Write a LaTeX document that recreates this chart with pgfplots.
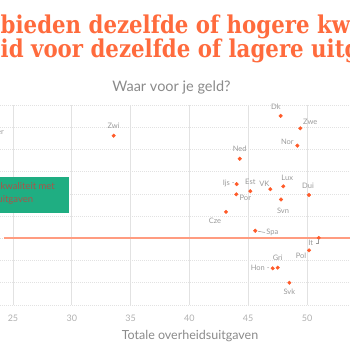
\documentclass[border=0pt]{standalone}
\usepackage{fontspec}
\setmainfont{Lato}
\newfontfamily\titlefont[FakeStretch=0.87]{DejaVu Serif}
\usepackage{pgfplots}
\usepackage{pgfplotstable}
\pgfplotsset{compat=1.18}
\definecolor{dotc}{HTML}{FF5A28}
\definecolor{titc}{HTML}{FF6B3D}
\definecolor{linec}{HTML}{FF9C80}
\definecolor{boxc}{HTML}{1FAE82}
\definecolor{boxtxt}{HTML}{A8554A}
\definecolor{gridc}{HTML}{E2E2E2}
\definecolor{labc}{HTML}{9A9A9A}
\definecolor{tickc}{HTML}{B0B0B0}
\definecolor{subc}{HTML}{8A8A8A}

\pgfplotstableread[col sep=comma]{
x,y,label,dx,dy
33.56,7.62,Zwi,0,9.7
47.76,8.51,Dk,-4.7,9
49.43,7.95,Zwe,10,6.3
49.18,7.17,Nor,-10,3.7
44.28,6.58,Ned,0,9.7
44.02,5.44,Ijs -,-8,1
45.18,5.12,Est,0,9
46.88,5.21,VK,-6,5
47.98,5.34,Lux,4,8
50.17,4.95,Dui,-1,9
43.99,4.98,Por,9,-3.7
47.79,4.75,Svn,2,-11.5
43.11,4.19,Cze,-11,-9
45.60,3.34,Spa,17,-2
51.00,3.02,It,-8,-5
50.17,2.46,Pol,-8,-5.7
47.51,1.68,Gri,0,9.7
47.08,1.65,Hon -,-12.5,0
48.50,1.00,Svk,0,-9.3
}\landen

\begin{document}
\begin{tikzpicture}
\path[use as bounding box] (0pt,0pt) rectangle (350pt,350pt);
\begin{scope}
\clip (0pt,0pt) rectangle (350pt,350pt);
% title
\node[anchor=base west, inner sep=0pt, text=titc, font=\titlefont\bfseries\fontsize{24.5}{26}\selectfont] at (0.5pt,316.7pt) {bieden dezelfde of hogere kwaliteit};
\node[anchor=base west, inner sep=0pt, text=titc, font=\titlefont\bfseries\fontsize{24.5}{26}\selectfont] at (0.5pt,292.7pt) {id voor dezelfde of lagere uitgaven};
\node[anchor=base, inner sep=0pt, text=subc, font=\fontsize{14.5}{16}\selectfont] at (171.5pt,258pt) {Waar voor je geld?};
\begin{axis}[
  at={(0pt,45pt)}, anchor=south west,
  scale only axis, width=350pt, height=200pt,
  xmin=23.895, xmax=53.656, ymin=0, ymax=9,
  axis line style={draw=none},
  xtick={25,30,35,40,45,50}, ytick={1,2,3,4,5,6,7,8,9},
  yticklabels={},
  extra y ticks={0}, extra y tick labels={},
  extra y tick style={grid style={draw=gridc, line width=0.9pt, solid}},
  major tick length=0pt,
  xmajorgrids, ymajorgrids,
  x grid style={draw=gridc, line width=0.6pt},
  y grid style={draw=gridc, line width=0.6pt, dash pattern=on 1pt off 1pt},
  /pgf/number format/assume math mode=true,
  xticklabel style={anchor=center, yshift=-13.5pt, text=tickc, font=\fontsize{9}{10}\selectfont},
  clip=false,
]
\addplot[draw=linec, line width=2pt] coordinates {(24.235,3.0) (53.656,3.0)};
\addplot[only marks, mark=*, mark size=1.8pt, color=dotc,
  point meta=explicit symbolic,
  visualization depends on={\thisrow{dx} \as \labdx},
  visualization depends on={\thisrow{dy} \as \labdy},
  nodes near coords,
  every node near coord/.append style={anchor=center, inner sep=0pt, xshift=\labdx pt, yshift=\labdy pt, text=labc, font=\fontsize{7.5}{8}\selectfont},
] table[x=x, y=y, meta=label] {\landen};
\end{axis}
% leader lines
\draw[labc, line width=0.5pt] (257.8pt,118.8pt) -- (265pt,117.5pt);
\draw[labc, line width=0.5pt] (318.7pt,110.5pt) -- (318.7pt,106.5pt) -- (315.5pt,106.5pt);
% annotation box
\fill[boxc] (-5pt,137.3pt) rectangle (69pt,173.3pt);
\node[anchor=base east, inner sep=0pt, text=boxtxt, font=\fontsize{9.5}{10}\selectfont] at (55pt,160.5pt) {Hogere kwaliteit met};
\node[anchor=base east, inner sep=0pt, text=boxtxt, font=\fontsize{9.5}{10}\selectfont] at (33.3pt,147.5pt) {lagere uitgaven};
\node[anchor=east, inner sep=0pt, text=labc, font=\fontsize{7.5}{8}\selectfont] at (4pt,218.3pt) {Ier};
\node[anchor=center, inner sep=0pt, text=subc, font=\fontsize{12.5}{14}\selectfont] at (190pt,14pt) {Totale overheidsuitgaven};
\end{scope}
\end{tikzpicture}
\end{document}
